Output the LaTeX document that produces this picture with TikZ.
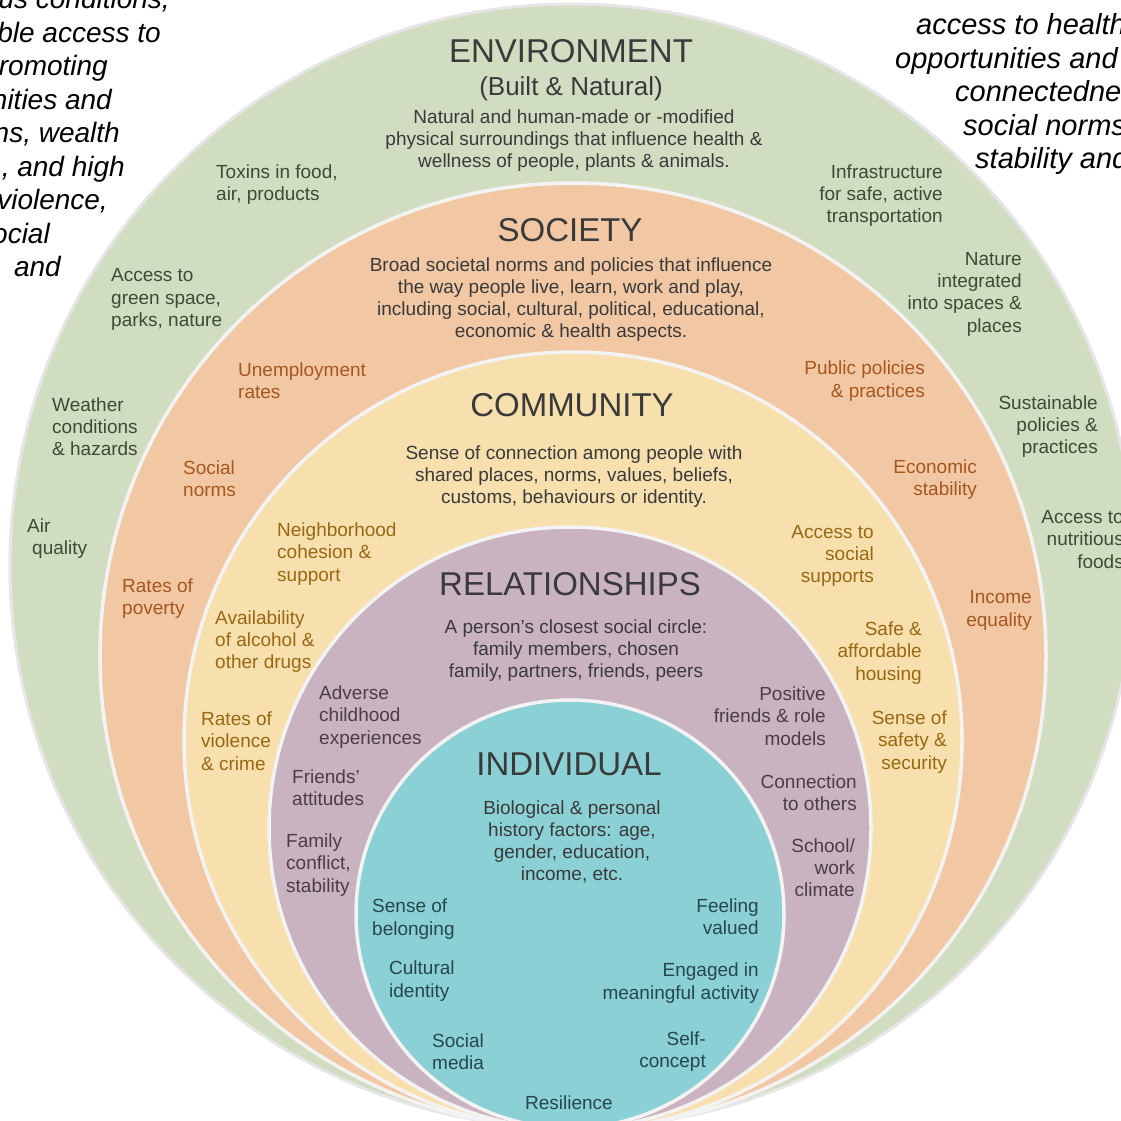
\documentclass[tikz,border=0pt]{standalone}
\usepackage{fontspec}
\setmainfont{Liberation Sans}
\definecolor{envfill}{HTML}{D1DDC1}
\definecolor{socfill}{HTML}{F2C8A4}
\definecolor{comfill}{HTML}{F7DFAE}
\definecolor{relfill}{HTML}{C9B3C0}
\definecolor{indfill}{HTML}{8BD0D5}
\definecolor{ringline}{HTML}{F3F3F3}
\definecolor{rimline}{HTML}{E6E6E6}
\definecolor{envtext}{HTML}{3E4A34}
\definecolor{soctext}{HTML}{A5571F}
\definecolor{comtext}{HTML}{986812}
\definecolor{reltext}{HTML}{4B3D47}
\definecolor{indtext}{HTML}{25474D}
\definecolor{headtext}{HTML}{3A3A3A}
\begin{document}
\begin{tikzpicture}[x=1pt,y=-1pt,
  ring/.style={draw=ringline, line width=3.5pt},
  heading/.style={font=\fontsize{33}{36}\selectfont, text=headtext, inner sep=0pt},
  subheading/.style={font=\fontsize{26}{28}\selectfont, text=headtext, inner sep=0pt, yshift=-3pt},
  desc/.style={font=\fontsize{19}{22}\selectfont, text=headtext, align=center, inner sep=0pt, yshift=-3pt},
  item/.style={font=\fontsize{19}{22.3}\selectfont, inner sep=0pt, yshift=-2pt},
  lft/.style={item, anchor=west, align=left},
  rgt/.style={item, anchor=east, align=right},
  env/.style={text=envtext}, soc/.style={text=soctext}, com/.style={text=comtext},
  rel/.style={text=reltext}, ind/.style={text=indtext},
  side/.style={font=\fontsize{28}{33.6}\selectfont\itshape, text=black, inner sep=0pt},
  sideR/.style={font=\fontsize{29}{33.6}\selectfont\itshape, text=black, inner sep=0pt}]
\useasboundingbox (0,0) rectangle (1121,1120);
\clip (0,0) rectangle (1121,1120);

% nested circles, all touching near the bottom
\draw[draw=rimline, line width=3pt, fill=envfill] (572,566) circle[radius=562pt];
\draw[ring, fill=socfill] (573,656) circle[radius=473pt];
\draw[ring, fill=comfill] (573,741) circle[radius=389pt];
\draw[ring, fill=relfill] (570,828) circle[radius=301pt];
\draw[ring, fill=indfill] (570,914) circle[radius=214pt];

% side text, running off the page edges
\node[side, anchor=base east] (l1) at (170,8) {us conditions,};
\node[side, anchor=base east] (l2) at (161,42) {ble access to};
\node[side, anchor=base east] (l3) at (108,75.5) {romoting};
\node[side, anchor=base east] (l4) at (112,109) {nities and};
\node[side, anchor=base east] (l5) at (120,142.5) {ns, wealth};
\node[side, anchor=base east] (l6) at (125,176) {, and high};
\node[side, anchor=base east] (l7) at (108,209.5) {violence,};
\node[side, anchor=base east] (l8) at (50,243) {ocial};
\node[side, anchor=base east] (l9) at (61,276.5) {and};
\node[sideR, anchor=base west] (r1) at (916,34) {access to health};
\node[sideR, anchor=base west] (r2) at (895,68) {opportunities and};
\node[sideR, anchor=base west] (r3) at (955,101.5) {connectedne};
\node[sideR, anchor=base west] (r4) at (963,135) {social norms};
\node[sideR, anchor=base west] (r5) at (975,168.5) {stability and};

% ENVIRONMENT
\node[heading] (envtitle) at (571,51) {ENVIRONMENT};
\node[subheading] (envsub) at (571,86) {(Built \& Natural)};
\node[desc] (envdesc) at (574,138) {Natural and human-made or -modified\\physical surroundings that influence health \&\\wellness of people, plants \& animals.};
\node[lft, env] (toxins) at (216,182.5) {Toxins in food,\\air, products};
\node[rgt, env] (infra) at (943,193.5) {Infrastructure\\for safe, active\\transportation};
\node[lft, env] (green) at (111,297.5) {Access to\\green space,\\parks, nature};
\node[rgt, env] (nature) at (1022,292) {Nature\\integrated\\into spaces \&\\places};
\node[lft, env] (weather) at (52,424.5) {Weather\\conditions\\\& hazards};
\node[rgt, env] (sustain) at (1098,424.5) {Sustainable\\policies \&\\practices};
\node[lft, env] (air) at (27,536.5) {Air\\\hspace*{5pt}quality};
\node[rgt, env] (foods) at (1124,537.5) {Access to\\nutritious\\foods};

% SOCIETY
\node[heading] (soctitle) at (570,230) {SOCIETY};
\node[desc] (socdesc) at (571,297) {Broad societal norms and policies that influence\\the way people live, learn, work and play,\\including social, cultural, political, educational,\\economic \& health aspects.};
\node[lft, soc] (unemp) at (238,379) {Unemployment\\rates};
\node[rgt, soc] (public) at (925,379) {Public policies\\\& practices};
\node[lft, soc] (norms) at (183,476.5) {Social\\norms};
\node[rgt, soc] (econ) at (977,477.5) {Economic\\stability};
\node[lft, soc] (poverty) at (122,596.5) {Rates of\\poverty};
\node[rgt, soc] (income) at (1032,608.5) {Income\\equality};

% COMMUNITY
\node[heading] (comtitle) at (572,405) {COMMUNITY};
\node[desc] (comdesc) at (574,474) {Sense of connection among people with\\shared places, norms, values, beliefs,\\customs, behaviours or identity.};
\node[lft, com] (cohesion) at (277,552) {Neighborhood\\cohesion \&\\support};
\node[rgt, com] (supports) at (874,554) {Access to\\social\\supports};
\node[lft, com] (alcohol) at (215,639.5) {Availability\\of alcohol \&\\other drugs};
\node[rgt, com] (housing) at (922,651) {Safe \&\\affordable\\housing};
\node[lft, com] (crime) at (201,739) {Rates of\\violence\\\& crime};
\node[rgt, com] (safety) at (947,740) {Sense of\\safety \&\\security};

% RELATIONSHIPS
\node[heading] (reltitle) at (570,584) {RELATIONSHIPS};
\node[desc] (reldesc) at (576,648) {A person’s closest social circle:\\family members, chosen\\family, partners, friends, peers};
\node[lft, rel] (adverse) at (319,715) {Adverse\\childhood\\experiences};
\node[rgt, rel] (rolemodels) at (826,714) {Positive\\friends \& role\\models};
\node[lft, rel] (attitudes) at (292,786) {Friends’\\attitudes};
\node[rgt, rel] (connection) at (857,791) {Connection\\to others};
\node[lft, rel] (conflict) at (286,863) {Family\\conflict,\\stability};
\node[rgt, rel] (school) at (855,865.5) {School/\\work\\climate};

% INDIVIDUAL
\node[heading] (indtitle) at (569,764) {INDIVIDUAL};
\node[desc] (inddesc) at (572,839) {Biological \& personal\\history factors: age,\\gender, education,\\income, etc.};
\node[lft, ind] (belonging) at (372,917) {Sense of\\belonging};
\node[rgt, ind] (valued) at (759,915) {Feeling\\valued};
\node[lft, ind] (cultural) at (389,979) {Cultural\\identity};
\node[rgt, ind] (engaged) at (759,981) {Engaged in\\meaningful activity};
\node[lft, ind] (media) at (432,1050) {Social\\media};
\node[rgt, ind] (selfconcept) at (706,1049.5) {Self-\\concept};
\node[item, ind] (resilience) at (569,1101) {Resilience};
\end{tikzpicture}
\end{document}
